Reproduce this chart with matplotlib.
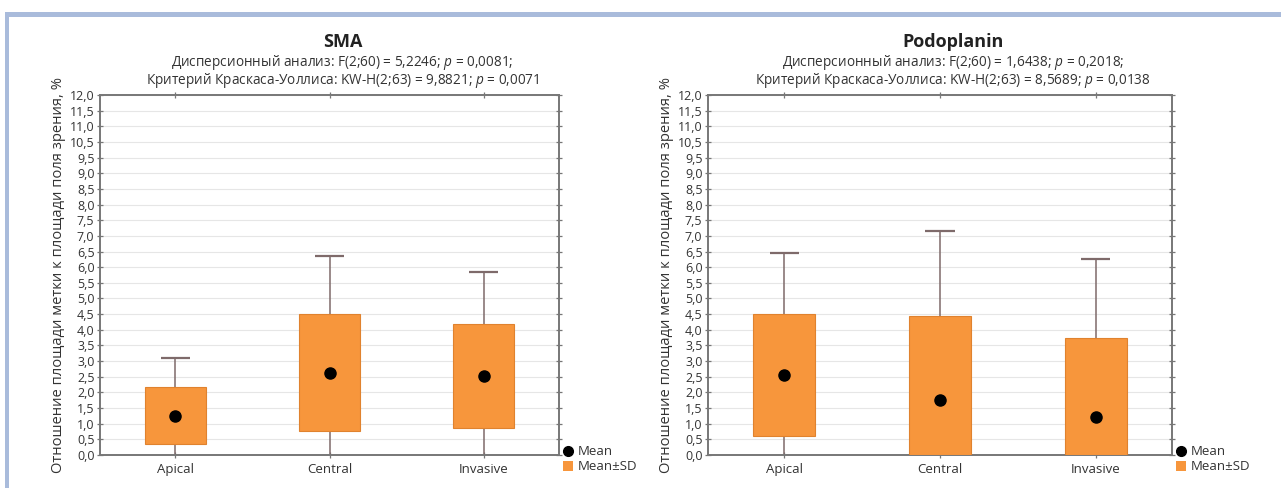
import matplotlib
matplotlib.use("Agg")
import matplotlib.pyplot as plt
from matplotlib.lines import Line2D
from matplotlib.patches import Patch, Rectangle
import numpy as np

plt.rcParams['font.family'] = ['Open Sans', 'DejaVu Sans']
plt.rcParams['mathtext.fontset'] = 'custom'
plt.rcParams['mathtext.rm'] = 'Open Sans'
plt.rcParams['mathtext.it'] = 'Open Sans:italic'

# ---------------- data ----------------
categories = ["Apical", "Central", "Invasive"]

sma_mean = [1.31, 2.73, 2.63]
sma_sd_low = [0.37, 0.80, 0.91]
sma_sd_high = [2.28, 4.70, 4.37]
sma_whisk_low = [0.0, 0.0, 0.0]
sma_whisk_high = [3.23, 6.63, 6.11]

pod_mean = [2.67, 1.83, 1.28]
pod_sd_low = [0.63, 0.0, 0.0]
pod_sd_high = [4.70, 4.64, 3.89]
pod_whisk_low = [0.0, 0.0, 0.0]
pod_whisk_high = [6.72, 7.45, 6.53]

ytick_labels = ["0,0", "0,5", "1,0", "1,5", "2,0", "2,5", "3,0", "3,5", "4,0",
                "4,5", "5,0", "5,5", "6,0", "6,5", "7,0", "7,5", "8,0", "8,5",
                "9,0", "9,5", "10,5", "11,0", "11,5", "12,0"]

titles = ["SMA", "Podoplanin"]
subtitle_line1 = [
    "Дисперсионный анализ: F(2;60) = 5,2246; $\\it{p}$ = 0,0081;",
    "Дисперсионный анализ: F(2;60) = 1,6438; $\\it{p}$ = 0,2018;",
]
subtitle_line2 = [
    "Критерий Краскаса-Уоллиса: KW-H(2;63) = 9,8821; $\\it{p}$ = 0,0071",
    "Критерий Краскаса-Уоллиса: KW-H(2;63) = 8,5689; $\\it{p}$ = 0,0138",
]
ylabel = "Отношение площади метки к площади поля зрения, %"
legend_labels = ["Mean", "Mean±SD"]

# ---------------- style ----------------
ORANGE = "#F7963C"
ORANGE_EDGE = "#E0822E"
WHISK = "#7E6A6A"
SPINE = "#777777"
GRID = "#E6E6E6"

W, H = 1281, 488
fig = plt.figure(figsize=(W / 100, H / 100), dpi=100)
fig.patch.set_facecolor("white")

# decorative frame
fig.patches.append(Rectangle((5 / W, 1 - 17 / H), 1 - 5 / W, 5 / H,
                             transform=fig.transFigure, facecolor="#A9BBDB",
                             edgecolor="none", zorder=0))
fig.patches.append(Rectangle((5 / W, 0), 4 / W, 1 - 12 / H,
                             transform=fig.transFigure, facecolor="#A9BBDB",
                             edgecolor="none", zorder=0))

axes_px = [(100, 559), (708, 1172)]
top_px, bot_px = 95, 455

panels = [
    (sma_mean, sma_sd_low, sma_sd_high, sma_whisk_low, sma_whisk_high),
    (pod_mean, pod_sd_low, pod_sd_high, pod_whisk_low, pod_whisk_high),
]

x = np.arange(len(categories))
box_w = 0.40
cap_w = 0.19

for i, (data, (x0, x1)) in enumerate(zip(panels, axes_px)):
    mean, sdl, sdh, wl, wh = data
    ax = fig.add_axes([x0 / W, 1 - bot_px / H, (x1 - x0) / W, (bot_px - top_px) / H])
    ax.set_xlim(-0.49, 2.49)
    ax.set_ylim(0, 12)

    # whiskers
    for xi, lo, hi, bl, bh in zip(x, wl, wh, sdl, sdh):
        ax.plot([xi, xi], [bh, hi], color=WHISK, lw=1.1, zorder=2, clip_on=True)
        ax.plot([xi, xi], [lo, bl], color=WHISK, lw=1.1, zorder=2, clip_on=True)
        ax.plot([xi - cap_w / 2, xi + cap_w / 2], [hi, hi], color=WHISK, lw=1.6,
                zorder=2, solid_capstyle="butt")
    # boxes
    ax.bar(x, np.array(sdh) - np.array(sdl), bottom=sdl, width=box_w,
           color=ORANGE, edgecolor=ORANGE_EDGE, linewidth=0.8, zorder=3)
    # means
    ax.plot(x, mean, "o", color="black", ms=8, zorder=4)

    yt = np.linspace(0, 12, len(ytick_labels))
    ax.set_yticks(yt)
    ax.set_yticklabels(ytick_labels, fontsize=9, color="#333333")
    ax.yaxis.grid(True, color=GRID, lw=0.8, zorder=0)
    ax.set_axisbelow(True)
    ax.set_xticks(x)
    ax.set_xticklabels(categories, fontsize=9.5, color="#333333")
    ax.tick_params(axis="both", direction="inout", length=4, width=0.9,
                   color=SPINE, pad=2, top=True, right=True)
    ax.tick_params(axis="x", pad=4)
    for sp in ax.spines.values():
        sp.set_color(SPINE)
        sp.set_linewidth(1.4)

    ax.set_ylabel(ylabel, fontsize=10.6, color="#333333", labelpad=3)

    handles = [Line2D([], [], marker="o", color="black", ls="none", ms=7),
               Patch(facecolor=ORANGE, edgecolor="none")]
    ax.legend(handles, legend_labels, loc="center left",
              bbox_to_anchor=(1.008, -0.012), frameon=False, fontsize=9.5,
              handlelength=0.8, handleheight=0.75, handletextpad=0.35,
              labelspacing=0.15, borderpad=0, borderaxespad=0,
              labelcolor="#333333")

    cx = (x0 + x1) / 2 + 13
    fig.text(cx / W, 1 - 42 / H, titles[i], ha="center", va="center",
             fontsize=13, fontweight="bold", color="#222222")
    fig.text(cx / W, 1 - 62 / H, subtitle_line1[i], ha="center", va="center",
             fontsize=9.8, color="#333333")
    fig.text(cx / W, 1 - 80 / H, subtitle_line2[i], ha="center", va="center",
             fontsize=9.8, color="#333333")

fig.savefig("out.png", dpi=100, facecolor="white")
